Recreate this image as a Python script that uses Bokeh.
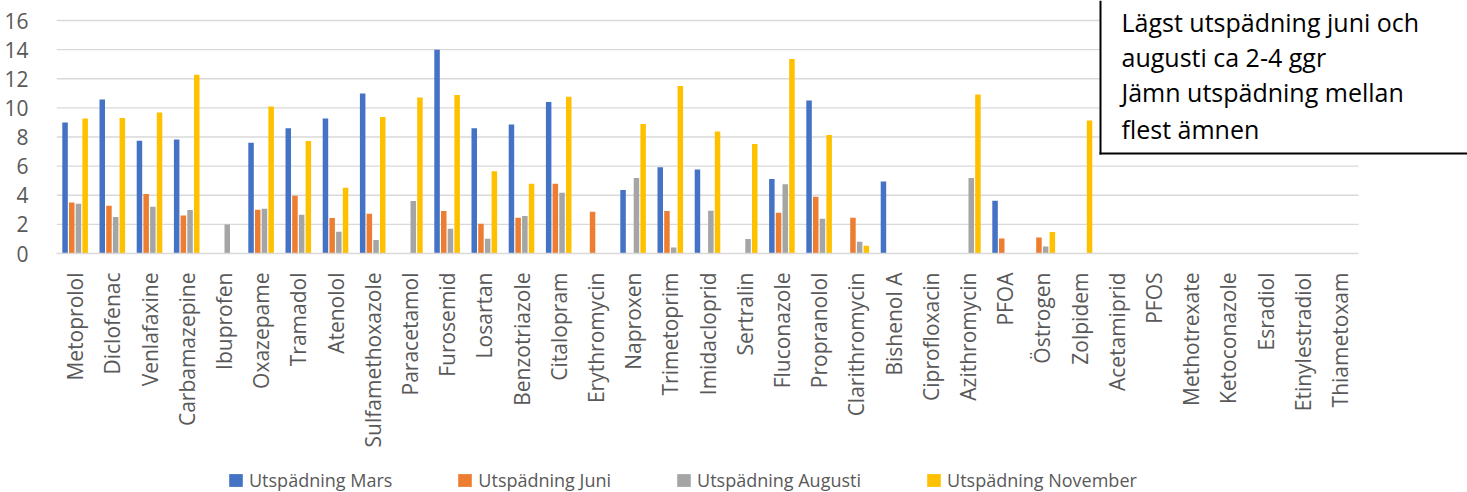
import math
from bokeh.plotting import figure
from bokeh.layouts import column
from bokeh.models import (ColumnDataSource, Range1d, Legend, LegendItem,
                          Label, BoxAnnotation, FixedTicker)
from bokeh.embed import file_html
from bokeh.resources import INLINE

substances = ["Metoprolol", "Diclofenac", "Venlafaxine", "Carbamazepine", "Ibuprofen",
              "Oxazepame", "Tramadol", "Atenolol", "Sulfamethoxazole", "Paracetamol",
              "Furosemid", "Losartan", "Benzotriazole", "Citalopram", "Erythromycin",
              "Naproxen", "Trimetoprim", "Imidacloprid", "Sertralin", "Fluconazole",
              "Propranolol", "Clarithromycin", "Bishenol A", "Ciprofloxacin", "Azithromycin",
              "PFOA", "Östrogen", "Zolpidem", "Acetamiprid", "PFOS", "Methotrexate",
              "Ketoconazole", "Esradiol", "Etinylestradiol", "Thiametoxam"]

mars = [9.0, 10.57, 7.75, 7.82, 0, 7.61, 8.6, 9.27, 10.99, 0,
        13.99, 8.6, 8.85, 10.41, 0, 4.36, 5.92, 5.76, 0, 5.11,
        10.5, 0, 4.95, 0, 0, 3.62, 0, 0, 0, 0, 0, 0, 0, 0, 0]
juni = [3.51, 3.28, 4.08, 2.61, 0, 3.0, 3.97, 2.43, 2.73, 0,
        2.91, 2.04, 2.45, 4.79, 2.87, 0, 2.91, 0, 0, 2.8,
        3.9, 2.45, 0, 0, 0, 1.03, 1.10, 0, 0, 0, 0, 0, 0, 0, 0]
augusti = [3.42, 2.5, 3.21, 2.98, 2.0, 3.07, 2.66, 1.49, 0.92, 3.6,
           1.70, 1.01, 2.57, 4.17, 0, 5.18, 0.41, 2.94, 0.99, 4.75,
           2.39, 0.80, 0, 0, 5.18, 0, 0.48, 0, 0, 0, 0, 0, 0, 0, 0]
november = [9.27, 9.31, 9.68, 12.27, 0, 10.09, 7.73, 4.52, 9.38, 10.71,
            10.89, 5.64, 4.79, 10.76, 0, 8.9, 11.51, 8.37, 7.52, 13.35,
            8.14, 0.53, 0, 0, 10.92, 0, 1.47, 9.13, 0, 0, 0, 0, 0, 0, 0]

series_names = ["Utspädning Mars", "Utspädning Juni", "Utspädning Augusti", "Utspädning November"]
series_values = [mars, juni, augusti, november]
colors = ["#4472C4", "#ED7D31", "#A5A5A5", "#FFC000"]
y_ticks = [0, 2, 4, 6, 8, 10, 12, 14, 16]

note_lines = ["Lägst utspädning juni och", "augusti ca 2-4 ggr",
              "Jämn utspädning mellan", "flest ämnen"]

FONT = "Open Sans"
GREY = "#595959"

n = len(substances)
pos = list(range(1, n + 1))

W = 1467
LEFT = 56
cat_px = 1302 / n
x_end = 0.5 + (W - LEFT) / cat_px
y_end = 16 + 20 / (233 / 16)

p = figure(x_range=Range1d(0.5, x_end), y_range=Range1d(0, y_end),
           width=W, height=468, output_backend="svg", toolbar_location=None,
           min_border_left=LEFT, min_border_right=0, min_border_top=0,
           min_border_bottom=215)
p.outline_line_color = None
p.background_fill_color = "white"

# horizontal grid lines limited to the category area
p.xgrid.grid_line_color = None
p.ygrid.grid_line_color = None
p.segment(x0=[0.5] * (len(y_ticks) - 1), x1=[n + 0.5] * (len(y_ticks) - 1),
          y0=y_ticks[1:], y1=y_ticks[1:], line_color="#D9D9D9", line_width=1.3,
          level="underlay")

offsets = [-0.27, -0.09, 0.09, 0.27]
for vals, col, off in zip(series_values, colors, offsets):
    src = ColumnDataSource(dict(x=[v + off for v in pos], top=vals))
    p.vbar(x="x", top="top", width=0.148, source=src, fill_color=col, line_color=None)

p.yaxis.ticker = FixedTicker(ticks=y_ticks)
p.yaxis.axis_line_color = None
p.yaxis.major_tick_line_color = None
p.yaxis.minor_tick_line_color = None
p.yaxis.major_label_standoff = 22
p.yaxis.major_label_text_font = FONT
p.yaxis.major_label_text_font_size = "21px"
p.yaxis.major_label_text_color = GREY

p.xaxis.ticker = FixedTicker(ticks=pos)
p.xaxis.major_label_overrides = {i: s for i, s in zip(pos, substances)}
p.xaxis.bounds = (0.5, n + 0.5)
p.xaxis.axis_line_color = "#D9D9D9"
p.xaxis.axis_line_width = 1.5
p.xaxis.major_tick_line_color = None
p.xaxis.minor_tick_line_color = None
p.xaxis.major_label_orientation = math.pi / 2
p.xaxis.major_label_standoff = 13
p.xaxis.major_label_text_font = FONT
p.xaxis.major_label_text_font_size = "21px"
p.xaxis.major_label_text_color = GREY

# note box: white fill, black left and bottom edges (top/right run off the canvas)
p.add_layout(BoxAnnotation(left=1044, right=None, bottom=100, top=None,
                           left_units="screen", bottom_units="screen",
                           fill_color="white", fill_alpha=1.0, line_color=None))
p.add_layout(BoxAnnotation(left=1043, right=1045, bottom=99, top=None,
                           left_units="screen", right_units="screen",
                           bottom_units="screen",
                           fill_color="black", fill_alpha=1.0, line_color=None))
p.add_layout(BoxAnnotation(left=1043, right=None, bottom=99, top=101,
                           left_units="screen", bottom_units="screen",
                           top_units="screen",
                           fill_color="black", fill_alpha=1.0, line_color=None))

baselines = [232, 197, 162, 125]
for txt, yb in zip(note_lines, baselines):
    p.add_layout(Label(x=1065, y=yb, x_units="screen", y_units="screen", text=txt,
                       text_font=FONT, text_font_size="25px", text_color="black",
                       text_baseline="alphabetic"))

# legend strip below the chart
pl = figure(width=W, height=24, x_range=Range1d(0, 1), y_range=Range1d(0, 1),
            x_axis_type=None, y_axis_type=None, output_backend="svg",
            toolbar_location=None, min_border=0)
pl.outline_line_color = None
pl.xgrid.visible = False
pl.ygrid.visible = False
items = []
for nm, col in zip(series_names, colors):
    r = pl.vbar(x=[5], top=[0.5], width=0.1, fill_color=col, line_color=None)
    items.append(LegendItem(label=nm, renderers=[r]))
legend = Legend(items=items, orientation="horizontal", location=(171, 0),
                border_line_color=None, background_fill_alpha=0,
                padding=0, margin=0, spacing=64,
                glyph_width=17, glyph_height=16, label_standoff=5,
                label_height=20,
                label_text_font=FONT, label_text_font_size="18px",
                label_text_color=GREY)
pl.add_layout(legend, "center")

layout = column(p, pl, spacing=0)
open("out.html", "w").write(file_html(layout, INLINE))
